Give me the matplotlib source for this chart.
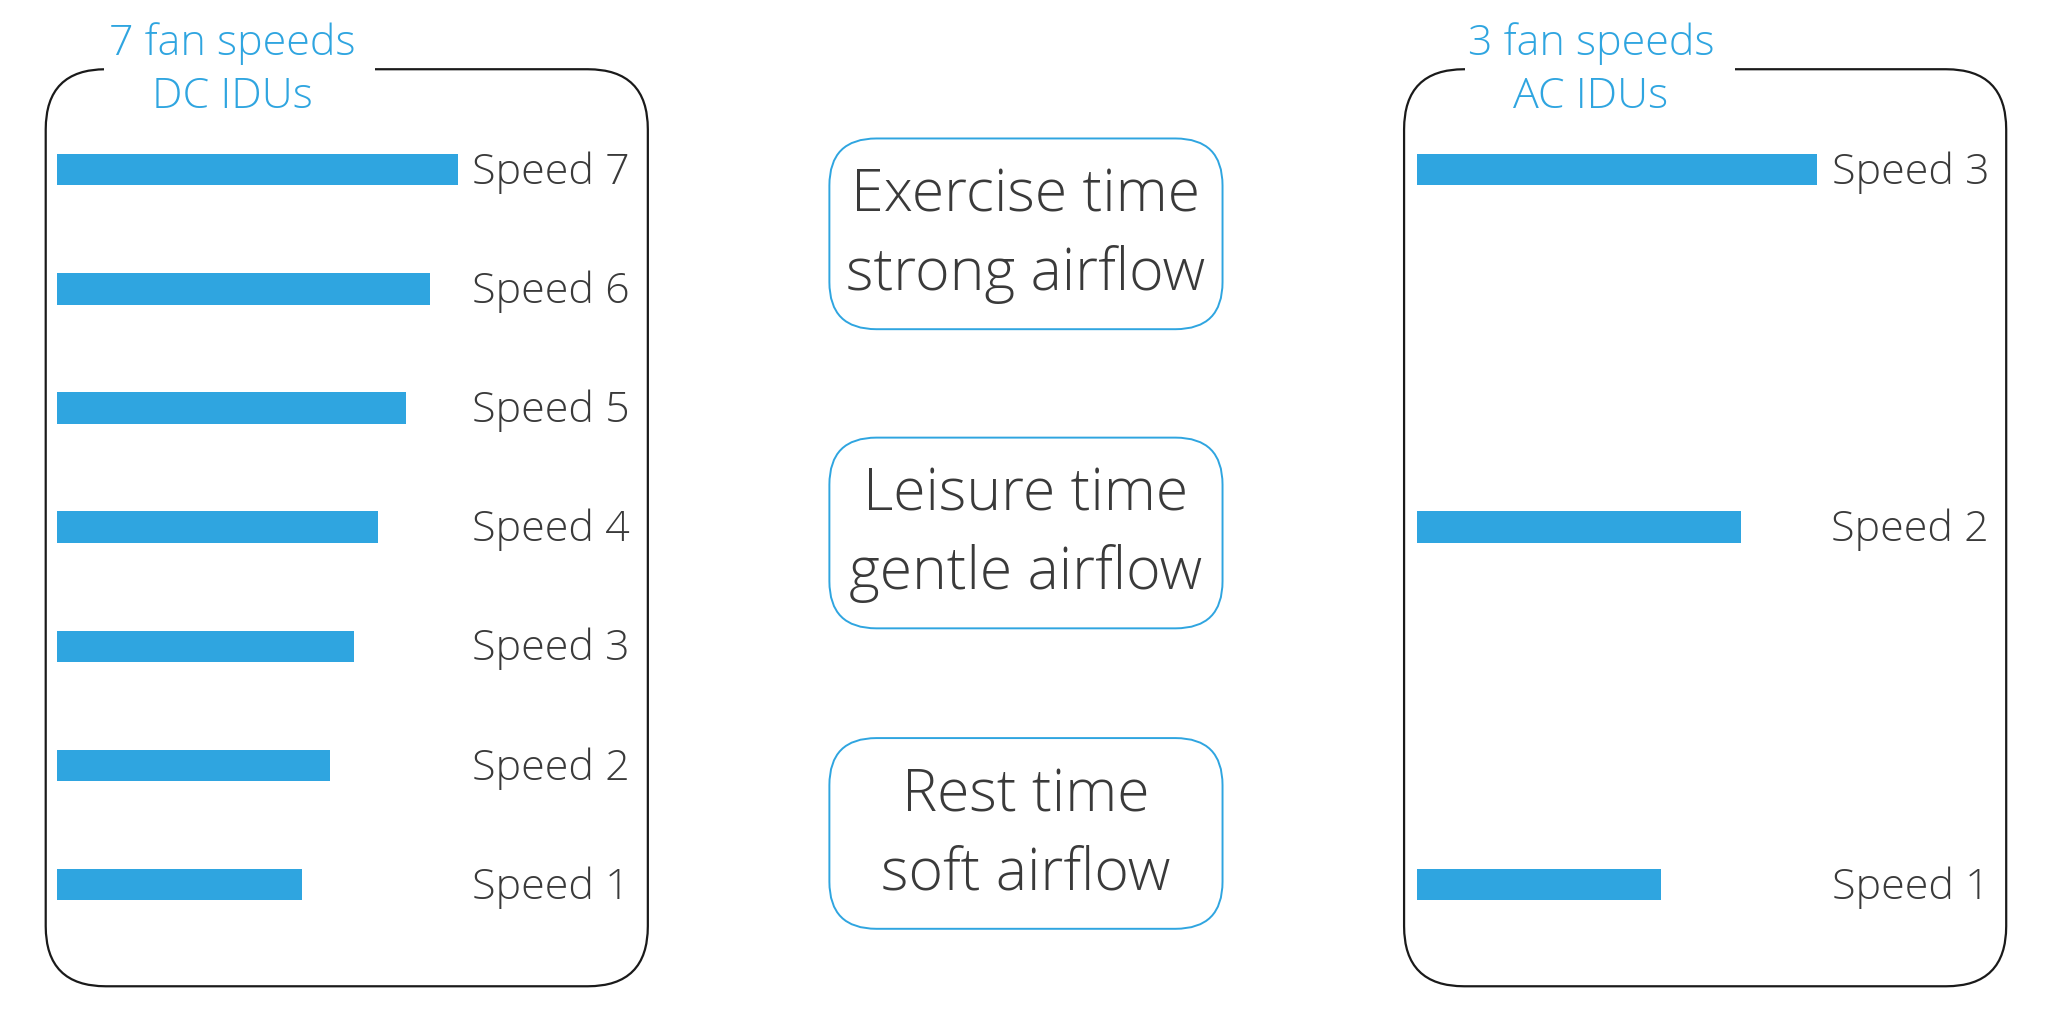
import matplotlib
matplotlib.use("Agg")
import matplotlib.pyplot as plt
from matplotlib.patches import FancyBboxPatch, Rectangle
from matplotlib.transforms import blended_transform_factory, ScaledTranslation

# ---- data ----
dc_speeds = [1, 2, 3, 4, 5, 6, 7]
dc_values = [61, 68, 74, 80, 87, 93, 100]
dc_labels = ["Speed 1", "Speed 2", "Speed 3", "Speed 4", "Speed 5", "Speed 6", "Speed 7"]
ac_speeds = [1, 2, 3]
ac_values = [61, 81, 100]
ac_labels = ["Speed 1", "Speed 2", "Speed 3"]
dc_title = ["7 fan speeds", "DC IDUs"]
ac_title = ["3 fan speeds", "AC IDUs"]
modes = [["Exercise time", "strong airflow"],
         ["Leisure time", "gentle airflow"],
         ["Rest time", "soft airflow"]]

BLUE = "#2fa5e0"
TXT = "#3a3a3a"
FONT = ["Open Sans", "DejaVu Sans"]
W, H = 1568.0, 790.0

fig = plt.figure(figsize=(20.48, 10.32), dpi=100)
fig.patch.set_facecolor("white")
canvas = fig.add_axes([0, 0, 1, 1])
canvas.set_xlim(0, W)
canvas.set_ylim(H, 0)
canvas.axis("off")

def panel_box(x0, x1, gap0, gap1, title, tcx):
    box = FancyBboxPatch((x0, 53), x1 - x0, 755 - 53,
                         boxstyle="round,pad=0,rounding_size=46",
                         facecolor="none", edgecolor="#1a1a1a", linewidth=1.6, zorder=2)
    canvas.add_patch(box)
    canvas.add_patch(Rectangle((gap0, 45), gap1 - gap0, 16, facecolor="white",
                               edgecolor="none", zorder=3))
    canvas.text(tcx, 33, title[0], ha="center", va="center", color=BLUE,
                fontsize=31, family=FONT, weight="light", zorder=4)
    canvas.text(tcx, 74, title[1], ha="center", va="center", color=BLUE,
                fontsize=31, family=FONT, weight="light", zorder=4)

panel_box(35, 496, 80, 287, dc_title, 178)
panel_box(1075, 1536, 1122, 1328, ac_title, 1218)

# middle rounded boxes
mid_tops = [106, 335, 565]
for top, lines in zip(mid_tops, modes):
    b = FancyBboxPatch((635, top), 936 - 635, 146,
                       boxstyle="round,pad=0,rounding_size=36",
                       facecolor="none", edgecolor=BLUE, linewidth=1.4, zorder=2)
    canvas.add_patch(b)
    canvas.text(785.5, top + 44, lines[0], ha="center", va="center", color=TXT,
                fontsize=42.5, family=FONT, weight="light")
    canvas.text(785.5, top + 104, lines[1], ha="center", va="center", color=TXT,
                fontsize=42.5, family=FONT, weight="light")

# bar axes (y span: 84.4 .. 722.6 in canvas px)
ytop, ybot = 84.4, 722.6
def bar_axes(xleft, xfull, ylim, speeds, values, labels, lab_x, height):
    ax = fig.add_axes([xleft / W, (H - ybot) / H, (xfull - xleft) / W, (ybot - ytop) / H])
    ax.set_xlim(0, 100)
    ax.set_ylim(*ylim)
    ax.axis("off")
    ax.barh(speeds, values, height=height, color=BLUE, zorder=3)
    tr = blended_transform_factory(canvas.transData, ax.transData) + \
        ScaledTranslation(0, -3 / 100, fig.dpi_scale_trans)
    for s, lab in zip(speeds, labels):
        ax.text(lab_x, s, lab, transform=tr, ha="right", va="center", color=TXT,
                fontsize=31, family=FONT, weight="light", clip_on=False)
    return ax

bar_axes(44, 351, (0.5, 7.5), dc_speeds, dc_values, dc_labels, 482, 24 / 91.17)
bar_axes(1085, 1391, (1 - 45.6 / 273.5, 3 + 45.6 / 273.5), ac_speeds, ac_values,
         ac_labels, 1523, 24 / 273.5)

fig.savefig("out.png", dpi=100, facecolor="white")
